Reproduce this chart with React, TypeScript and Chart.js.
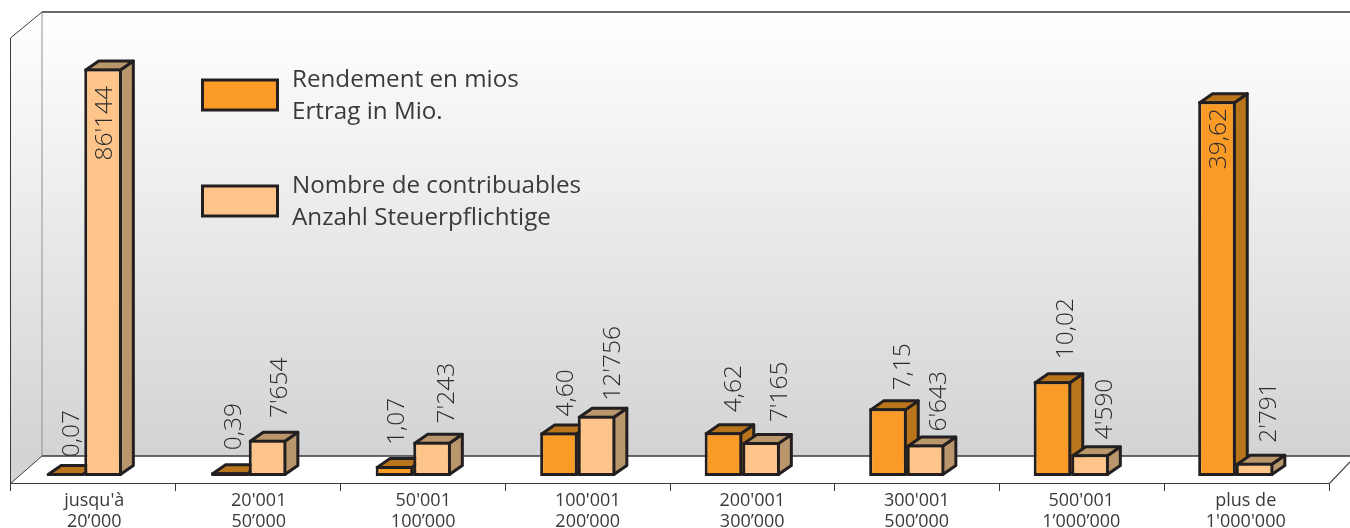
import React, { useEffect, useRef } from "react";
import { Chart, registerables } from "chart.js";

Chart.register(...registerables);

const categories = [
  ["jusqu'à", "20’000"],
  ["20'001", "50’000"],
  ["50'001", "100’000"],
  ["100'001", "200’000"],
  ["200'001", "300’000"],
  ["300'001", "500’000"],
  ["500'001", "1’000’000"],
  ["plus de", "1'000'000"],
];
const rendement = [0.07, 0.39, 1.07, 4.6, 4.62, 7.15, 10.02, 39.62];
const contribuables = [86144, 7654, 7243, 12756, 7165, 6643, 4590, 2791];
const rendementLegend = ["Rendement en mios", "Ertrag in Mio."];
const contribuablesLegend = ["Nombre de contribuables", "Anzahl Steuerpflichtige"];

// Hand placement of the value labels in the original: sideways shift of the text
// from the bar's centre, and its distance above the bar's top.
const rendementLabelShift = [14, 10.7, 9.5, 13.7, 17.5, 22, 20.5, 9];
const rendementLabelGap = [18, 22, 21, 16, 20, 18, 22, -68];
const contribuablesLabelShift = [8.5, 19.7, 21.8, 23.3, 26, 20, 22, 21];
const contribuablesLabelGap = [-92, 21.7, 18.3, 15, 20, 13, 15, 20];

const INK = "#231f20";
const TEXT = "#3a3a3c";
const VALUE_TEXT = "#2c2c2e";
const LINE = "#3a3a3c";
const FONT = '"Open Sans", sans-serif';
const DEPTH_X = 13;
const DEPTH_Y = 9;

const fmtRendement = (v: number) => v.toFixed(2).replace(".", ",");
const fmtContribuables = (v: number) => String(v).replace(/\B(?=(\d{3})+$)/g, "'");

const palette = [
  { front: "#f99b26", side: "#b8751c", top: "#b8751c", fmt: fmtRendement, shift: rendementLabelShift, gap: rendementLabelGap },
  { front: "#fec58a", side: "#b9966b", top: "#b9966b", fmt: fmtContribuables, shift: contribuablesLabelShift, gap: contribuablesLabelGap },
];

const polygon = (ctx: CanvasRenderingContext2D, pts: number[][], fill: string) => {
  ctx.beginPath();
  pts.forEach(([x, y], i) => (i ? ctx.lineTo(x, y) : ctx.moveTo(x, y)));
  ctx.closePath();
  ctx.fillStyle = fill;
  ctx.fill();
  ctx.lineWidth = 3;
  ctx.lineJoin = "round";
  ctx.strokeStyle = INK;
  ctx.stroke();
};

const line = (ctx: CanvasRenderingContext2D, pts: number[][], color: string, width: number) => {
  ctx.beginPath();
  pts.forEach(([x, y], i) => (i ? ctx.lineTo(x, y) : ctx.moveTo(x, y)));
  ctx.strokeStyle = color;
  ctx.lineWidth = width;
  ctx.stroke();
};

const stagePlugin = {
  id: "stage",
  beforeDraw(chart: any) {
    const { ctx } = chart;
    ctx.save();
    const wallTop = 12;
    const wallBottom = 456;
    const floorFront = 483.5;
    const frontLeft = 10.5;
    const frontRight = 1329.5;
    const g = ctx.createLinearGradient(0, wallTop, 0, wallBottom);
    g.addColorStop(0, "#ffffff");
    g.addColorStop(1, "#d1d3d4");
    ctx.fillStyle = g;
    ctx.fillRect(42, wallTop, 1350 - 42, wallBottom - wallTop);
    ctx.beginPath();
    ctx.moveTo(42, wallTop);
    ctx.lineTo(frontLeft, 38);
    ctx.lineTo(frontLeft, floorFront);
    ctx.lineTo(42, wallBottom);
    ctx.closePath();
    ctx.fill();

    line(ctx, [[42, wallTop], [1350, wallTop]], LINE, 1.5);
    line(ctx, [[42, wallTop], [42, wallBottom]], "#8f9092", 1);
    line(ctx, [[42, wallTop], [frontLeft, 38], [frontLeft, floorFront]], LINE, 1);
    line(ctx, [[42, wallBottom], [1350, wallBottom]], LINE, 1.5);
    line(ctx, [[42, wallBottom], [frontLeft, floorFront]], LINE, 1);
    line(ctx, [[frontLeft, floorFront], [frontRight, floorFront], [1350, 462]], LINE, 1.2);

    const step = (frontRight - frontLeft) / categories.length;
    for (let i = 0; i <= categories.length; i++) {
      const x = Math.floor(frontLeft + i * step) + 0.5;
      line(ctx, [[x, floorFront], [x, 491]], LINE, 1);
    }
    ctx.restore();
  },
  beforeDatasetsDraw(chart: any) {
    const { ctx } = chart;
    ctx.save();
    for (let d = 0; d < 2; d++) {
      const p = palette[d];
      chart.getDatasetMeta(d).data.forEach((bar: any) => {
        const { x, y, base, width } = bar.getProps(["x", "y", "base", "width"], true);
        const l = x - width / 2 + 1.5;
        const r = x + width / 2 - 1.5;
        const t = Math.min(y + 1.5, base - 1.5);
        const b = base - 1.5;
        polygon(ctx, [[r, t], [r + DEPTH_X, t - DEPTH_Y], [r + DEPTH_X, b - DEPTH_Y], [r, b]], p.side);
        polygon(ctx, [[l, t], [l + DEPTH_X, t - DEPTH_Y], [r + DEPTH_X, t - DEPTH_Y], [r, t]], p.top);
      });
    }
    ctx.restore();
  },
  afterDatasetsDraw(chart: any) {
    const { ctx } = chart;
    ctx.save();
    // value labels
    ctx.fillStyle = VALUE_TEXT;
    ctx.font = `300 24.5px ${FONT}`;
    ctx.textBaseline = "alphabetic";
    ctx.textAlign = "left";
    for (let d = 0; d < 2; d++) {
      const p = palette[d];
      const values = chart.data.datasets[d].data as number[];
      chart.getDatasetMeta(d).data.forEach((bar: any, i: number) => {
        const { x, y } = bar.getProps(["x", "y"], true);
        ctx.save();
        ctx.translate(x + p.shift[i], y - p.gap[i]);
        ctx.rotate(-Math.PI / 2);
        ctx.fillText(p.fmt(values[i]), 0, 0);
        ctx.restore();
      });
    }
    // legend
    const entries = [
      { lines: rendementLegend, color: palette[0].front, top: 80 },
      { lines: contribuablesLegend, color: palette[1].front, top: 186 },
    ];
    ctx.font = `24.2px ${FONT}`;
    entries.forEach((e) => {
      ctx.fillStyle = e.color;
      ctx.strokeStyle = INK;
      ctx.lineWidth = 3;
      ctx.fillRect(202.5, e.top, 75, 30);
      ctx.strokeRect(202.5, e.top, 75, 30);
      ctx.fillStyle = TEXT;
      e.lines.forEach((t, i) => ctx.fillText(t, 292, e.top + 7 + i * 32));
    });
    ctx.restore();
  },
};

export default function App() {
  const ref = useRef<HTMLCanvasElement>(null);
  useEffect(() => {
    document.body.style.margin = "0";
    const chart = new Chart(ref.current as HTMLCanvasElement, {
      type: "bar",
      data: {
        labels: categories as any,
        datasets: [
          {
            label: rendementLegend[0],
            data: rendement,
            yAxisID: "y",
            backgroundColor: palette[0].front,
            borderColor: INK,
            borderWidth: 3,
            borderSkipped: false,
            barPercentage: 1,
            categoryPercentage: 0.457,
          },
          {
            label: contribuablesLegend[0],
            data: contribuables,
            yAxisID: "y2",
            backgroundColor: palette[1].front,
            borderColor: INK,
            borderWidth: 3,
            borderSkipped: false,
            barPercentage: 1,
            categoryPercentage: 0.457,
          },
        ],
      },
      options: {
        responsive: false,
        animation: false,
        devicePixelRatio: 1,
        layout: { padding: { left: 2, right: 32, top: 12, bottom: 0 } },
        plugins: { legend: { display: false }, tooltip: { enabled: false }, title: { display: false } },
        scales: {
          x: {
            grid: { display: false, drawTicks: false },
            border: { display: false },
            afterFit: (s: any) => {
              s.height = 52;
            },
            ticks: {
              autoSkip: false,
              maxRotation: 0,
              minRotation: 0,
              padding: 14,
              labelOffset: 10,
              color: TEXT,
              font: { family: FONT, size: 18, lineHeight: 1.17 },
            },
          },
          y: { display: false, min: 0, max: 49.05 },
          y2: { display: false, min: 0, max: 98100 },
        },
      },
      plugins: [stagePlugin],
    } as any);
    return () => chart.destroy();
  }, []);
  return <canvas ref={ref} width={1350} height={528} style={{ display: "block" }} />;
}
